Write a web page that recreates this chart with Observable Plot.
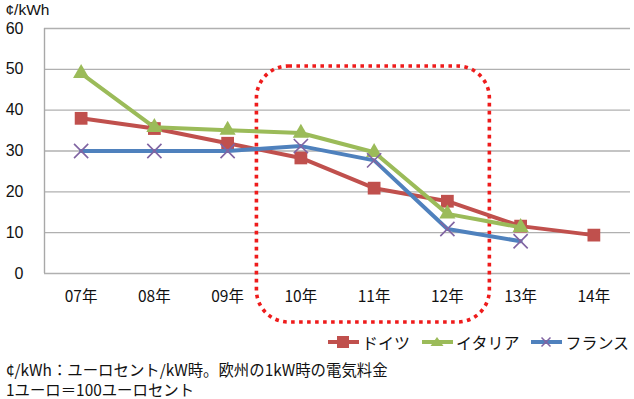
<!DOCTYPE html>
<html><head><meta charset="utf-8">
<script src="https://cdn.jsdelivr.net/npm/d3@7"></script>
<script src="https://cdn.jsdelivr.net/npm/@observablehq/plot@0.6"></script>
<style>
body{margin:0;background:#fff;font-family:"Noto Sans CJK JP","Noto Sans",sans-serif;}
#wrap{position:relative;width:634px;height:399px;overflow:hidden;}
#chart svg{display:block;}
#legend{position:absolute;top:330px;left:327px;display:flex;align-items:center;font-size:16px;color:#111;white-space:nowrap;width:320px;}
#legend .it{display:flex;align-items:center;margin-right:11px;white-space:nowrap;}
#legend svg{margin-right:2px;flex:none;}
#caption{position:absolute;top:359px;left:6px;font-size:15.4px;line-height:20px;color:#111;white-space:nowrap;}
</style></head>
<body><div id="wrap">
<div id="chart"></div>
<div id="legend"></div>
<div id="caption">¢/kWh：ユーロセント/kW時。欧州の1kW時の電気料金<br>1ユーロ＝100ユーロセント</div>
</div>
<script>
const unitTitle = "¢/kWh";
const years = ["07年","08年","09年","10年","11年","12年","13年","14年"];
const germany = [38.0, 35.5, 31.9, 28.3, 20.9, 17.7, 11.6, 9.4];
const italy   = [49.0, 35.8, 35.1, 34.4, 29.7, 14.6, 11.3];
const france  = [30.0, 30.0, 30.0, 31.2, 27.7, 10.9, 7.9];
const seriesNames = ["ドイツ","イタリア","フランス"];
const yTicks = [0,10,20,30,40,50,60];
// highlight box (x in category-index units, y in ¢/kWh)
const boxX = [2.40, 5.58];
const boxY = [-12.0, 50.7];

const colors = {"ドイツ":"#C0504D","イタリア":"#9BBB59","フランス":"#4F81BD"};
const toRows = (vals, name) => vals.map((v,i)=>({i, v, name}));
const gRows = toRows(germany, seriesNames[0]);
const iRows = toRows(italy, seriesNames[1]);
const fRows = toRows(france, seriesNames[2]);
const latin = '"Liberation Sans",Arial,sans-serif';

const chart = Plot.plot({
  width: 634, height: 328,
  marginLeft: 44, marginRight: 4, marginTop: 28, marginBottom: 55,
  style: {fontFamily: '"Noto Sans CJK JP","Noto Sans",sans-serif', fontSize: "16px", color: "#111", background: "#fff"},
  x: {domain: [-0.5, 7.5]},
  y: {domain: [0, 60]},
  marks: [
    Plot.gridY(yTicks, {stroke: "#b0b0b0", strokeOpacity: 1, strokeWidth: 1.4}),
    Plot.ruleX([-0.5], {stroke: "#a8a8a8", strokeWidth: 1.4}),
    Plot.axisY(yTicks, {tickSize: 0, tickPadding: 21, fontSize: 16, fontFamily: latin, label: null}),
    Plot.axisX(d3.range(years.length), {tickSize: 0, tickPadding: 17, fontSize: 15.5, tickFormat: i => years[i], label: null}),
    Plot.text([unitTitle], {frameAnchor: "top-left", lineAnchor: "middle", dx: -39, dy: -18.5, textAnchor: "start", fontSize: 15.5, fontFamily: latin, fill: "#111", text: d => d}),
    Plot.rect([{}], {x1: () => boxX[0], x2: () => boxX[1], y1: () => boxY[0], y2: () => boxY[1],
      rx: 32, fill: "none", stroke: "#ee1c1c", strokeWidth: 3.6, strokeDasharray: "3.6 4.4"}),
    Plot.line(gRows, {x: "i", y: "v", stroke: colors["ドイツ"], strokeWidth: 4}),
    Plot.dot(gRows, {x: "i", y: "v", symbol: "square", fill: colors["ドイツ"], r: 7.2}),
    Plot.line(iRows, {x: "i", y: "v", stroke: colors["イタリア"], strokeWidth: 4}),
    Plot.dot(iRows, {x: "i", y: "v", symbol: "triangle", fill: colors["イタリア"], r: 6}),
    Plot.line(fRows, {x: "i", y: "v", stroke: colors["フランス"], strokeWidth: 4}),
    Plot.dot(fRows, {x: "i", y: "v", symbol: "times", stroke: "#8064A2", strokeWidth: 1.6, r: 6.5})
  ]
});
document.getElementById("chart").appendChild(chart);

// legend
const marker = {
  "ドイツ": `<rect x="10" y="4" width="12" height="12" fill="#C0504D"/>`,
  "イタリア": `<path d="M16 5 L22.5 14 L9.5 14 Z" fill="#9BBB59"/>`,
  "フランス": `<path d="M11.5 5.5 L20.5 14.5 M20.5 5.5 L11.5 14.5" stroke="#8064A2" stroke-width="1.5"/>`
};
const lg = document.getElementById("legend");
seriesNames.forEach(n => {
  const d = document.createElement("div");
  d.className = "it";
  d.innerHTML = `<svg width="33" height="20"><line x1="1" x2="32" y1="10" y2="10" stroke="${colors[n]}" stroke-width="4"/>${marker[n]}</svg><span>${n}</span>`;
  lg.appendChild(d);
});
</script>
</body></html>
